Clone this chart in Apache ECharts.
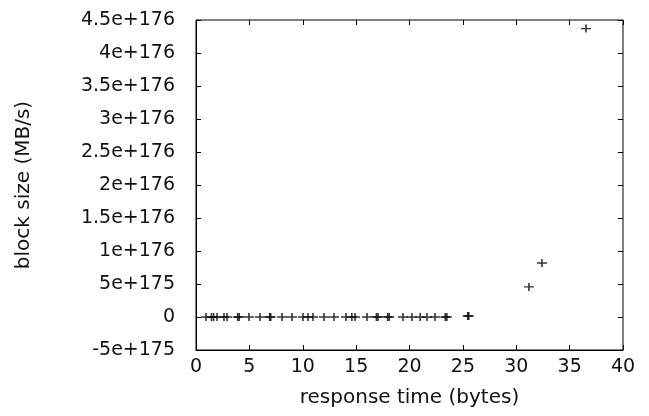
<!DOCTYPE html>
<html>
<head>
<meta charset="utf-8">
<script src="https://cdn.jsdelivr.net/npm/echarts@6/dist/echarts.min.js"></script>
<style>
  html, body { margin: 0; padding: 0; background: #fff; }
  #chart { width: 649px; height: 416px; }
</style>
</head>
<body>
<div id="chart"></div>
<script>
// response time (bytes) -> block size (MB/s)
const respTime = [
  0.94, 1.45, 1.65, 1.97, 2.62, 2.9, 3.9, 4.05, 4.96, 6.0, 6.9, 7.0, 8.06, 8.99,
  10.02, 10.49, 10.96, 11.99, 12.93, 14.05, 14.6, 14.9, 16.02, 16.9, 17.05,
  17.95, 18.1, 19.39, 20.23, 21.0, 21.64, 22.39, 23.35, 23.5, 25.45, 25.55,
  31.19, 32.41, 36.53
]
const blockSize = [
  0, 0, 0, 0, 0, 0, 0, 0, 0, 0, 0, 0, 0, 0,
  0, 0, 0, 0, 0, 0, 0, 0, 0, 0, 0,
  0, 0, 0, 0, 0, 0, 0, 0, 0, 1.5e174, 1.5e174,
  4.55e175, 8.18e175, 4.37e176
]
const xTicks = { min: 0, max: 40, interval: 5 }
const yTicks = { min: -5e175, max: 4.5e176, interval: 5e175 }

const plusSymbol = 'path://M0,4.2h10v1.6h-10z M4.2,0h1.6v10h-1.6z'
const font = 'DejaVu Sans'

const fmtY = (v) => {
  if (Math.abs(v) < 1e170) return '0'
  return Number(v.toPrecision(2)).toExponential()
}

const mirrorTick = { show: true, inside: true, length: 5, lineStyle: { color: '#000', width: 1 } }

const chart = echarts.init(document.getElementById('chart'))
chart.setOption({
  animation: false,
  backgroundColor: '#fff',
  grid: {
    left: 196, right: 26, top: 20, bottom: 66,
    show: true, borderColor: '#000', borderWidth: 1
  },
  xAxis: [{
    type: 'value',
    min: xTicks.min, max: xTicks.max, interval: xTicks.interval,
    name: 'response time (bytes)',
    nameLocation: 'middle',
    nameGap: 38,
    nameTextStyle: { fontFamily: font, fontSize: 20, color: '#111' },
    axisLine: { show: true, onZero: false, lineStyle: { color: '#000', width: 1 } },
    axisTick: mirrorTick,
    axisLabel: { fontFamily: font, fontSize: 19, color: '#111', margin: 8 },
    splitLine: { show: false }
  }, {
    type: 'value', position: 'top',
    min: xTicks.min, max: xTicks.max, interval: xTicks.interval,
    axisLine: { show: false, onZero: false },
    axisTick: mirrorTick,
    axisLabel: { show: false },
    splitLine: { show: false }
  }],
  yAxis: [{
    type: 'value',
    min: yTicks.min, max: yTicks.max, interval: yTicks.interval,
    name: 'block size (MB/s)',
    nameLocation: 'middle',
    nameGap: 162,
    nameTextStyle: { fontFamily: font, fontSize: 20, color: '#111' },
    axisLine: { show: true, onZero: false, lineStyle: { color: '#000', width: 1 } },
    axisTick: mirrorTick,
    axisLabel: { fontFamily: font, fontSize: 19, color: '#111', margin: 21, formatter: fmtY },
    splitLine: { show: false }
  }, {
    type: 'value', position: 'right',
    min: yTicks.min, max: yTicks.max, interval: yTicks.interval,
    axisLine: { show: false, onZero: false },
    axisTick: mirrorTick,
    axisLabel: { show: false },
    splitLine: { show: false }
  }],
  series: [{
    type: 'scatter',
    symbol: plusSymbol,
    symbolSize: [10, 8],
    itemStyle: { color: '#000' },
    data: respTime.map((x, i) => [x, blockSize[i]])
  }]
})
</script>
</body>
</html>
